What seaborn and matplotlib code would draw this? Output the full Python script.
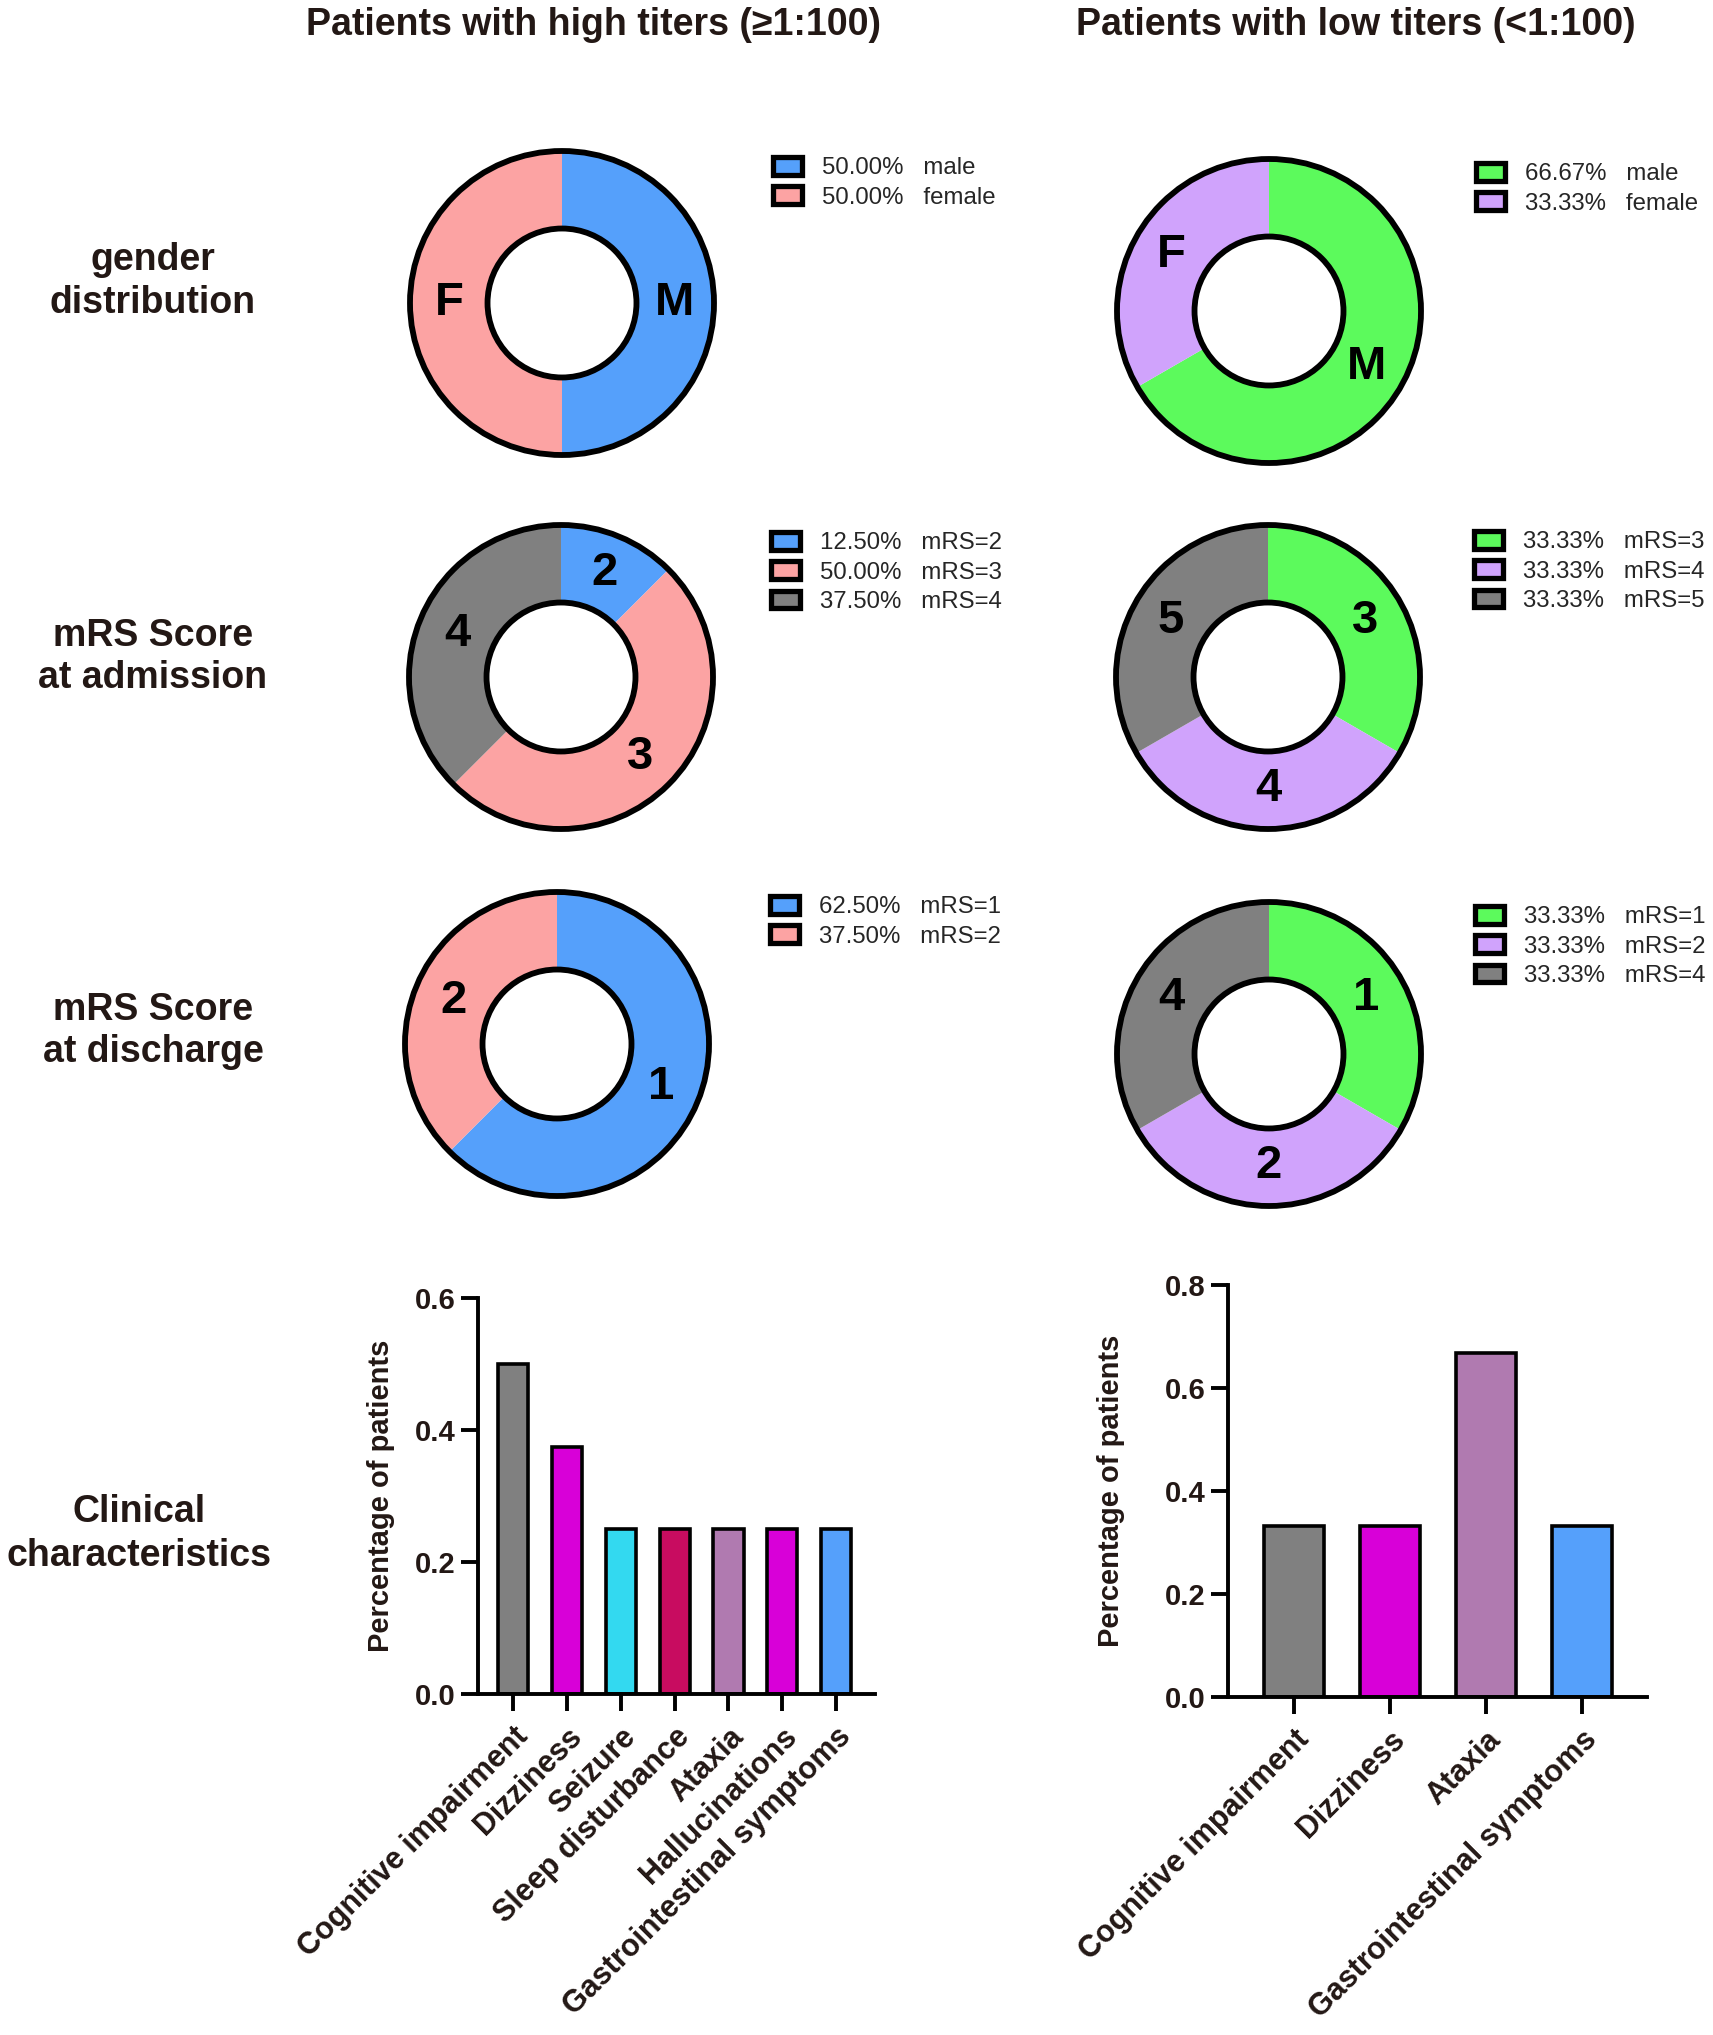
import numpy as np
import pandas as pd
import seaborn as sns
import matplotlib.pyplot as plt
from matplotlib.patches import Patch, Circle
from matplotlib.ticker import FormatStrFormatter

# ---- data ----
group_titles = ['Patients with high titers (\u22651:100)', 'Patients with low titers (<1:100)']
row_titles = ['gender\ndistribution', 'mRS Score\nat admission', 'mRS Score\nat discharge',
              'Clinical\ncharacteristics']

gender_names = ['male', 'female']
gender_short = ['M', 'F']
gender_high = [50.00, 50.00]
gender_low = [66.67, 33.33]

adm_high_scores = ['mRS=2', 'mRS=3', 'mRS=4']
adm_high = [12.50, 50.00, 37.50]
adm_low_scores = ['mRS=3', 'mRS=4', 'mRS=5']
adm_low = [33.33, 33.33, 33.33]

dis_high_scores = ['mRS=1', 'mRS=2']
dis_high = [62.50, 37.50]
dis_low_scores = ['mRS=1', 'mRS=2', 'mRS=4']
dis_low = [33.33, 33.33, 33.33]

symptoms_high = ['Cognitive impairment', 'Dizziness', 'Seizure', 'Sleep disturbance',
                 'Ataxia', 'Hallucinations', 'Gastrointestinal symptoms']
pct_high = [0.5, 0.375, 0.25, 0.25, 0.25, 0.25, 0.25]
symptoms_low = ['Cognitive impairment', 'Dizziness', 'Ataxia', 'Gastrointestinal symptoms']
pct_low = [0.333, 0.333, 0.667, 0.333]

# ---- colours ----
BLUE = '#55A0FB'
PINK = '#FCA3A3'
GRAY = '#808080'
GREEN = '#5CFA5C'
LAVENDER = '#D0A3FC'
MAGENTA = '#D800D8'
CYAN = '#33D9F0'
CRIMSON = '#C80C60'
MAUVE = '#B07AB0'
high_colors = [BLUE, PINK, GRAY]
low_colors = [GREEN, LAVENDER, GRAY]
symptom_colors = {'Cognitive impairment': GRAY, 'Dizziness': MAGENTA, 'Seizure': CYAN,
                  'Sleep disturbance': CRIMSON, 'Ataxia': MAUVE, 'Hallucinations': MAGENTA,
                  'Gastrointestinal symptoms': BLUE}
TXT = '#231815'

sns.set_theme(style='ticks', rc={'axes.edgecolor': 'black', 'xtick.color': 'black',
                                 'ytick.color': 'black'})
plt.rcParams['font.family'] = ['Liberation Sans', 'DejaVu Sans']

W, H = 1713, 2035
fig = plt.figure(figsize=(W / 100, H / 100), dpi=100)

R_OUT = 152
PAD = 1.07


def donut(cx, cy, values, colors, short, names, leg_x, leg_y):
    half = R_OUT * PAD
    ax = fig.add_axes([(cx - half) / W, 1 - (cy + half) / H, 2 * half / W, 2 * half / H])
    wedges, _ = ax.pie(values, colors=colors[:len(values)], startangle=90, counterclock=False,
                       radius=1, wedgeprops=dict(width=0.51, linewidth=0))
    for w, s in zip(wedges, short):
        mid = np.deg2rad((w.theta1 + w.theta2) / 2)
        ax.text(0.74 * np.cos(mid), 0.74 * np.sin(mid), s, ha='center', va='center',
                fontsize=34, fontweight='bold', color='black')
    ax.add_patch(Circle((0, 0), 1, fill=False, lw=4.2, ec='black'))
    ax.add_patch(Circle((0, 0), 0.49, fill=False, lw=4.2, ec='black'))
    ax.set_xlim(-PAD, PAD)
    ax.set_ylim(-PAD, PAD)
    ax.set_aspect('equal')
    ax.axis('off')
    handles = [Patch(facecolor=c, edgecolor='black', linewidth=3.8, joinstyle='round')
               for c in colors[:len(values)]]
    labels = [f'{v:.2f}%   {n}' for v, n in zip(values, names)]
    fig.legend(handles, labels, loc='upper left', bbox_to_anchor=(leg_x / W, 1 - (leg_y - 10) / H),
               frameon=False, fontsize=17.3, handlelength=1.2, handleheight=0.75,
               handletextpad=0.85, labelspacing=0.3, borderpad=0, borderaxespad=0)


donut(562, 303, gender_high, high_colors, gender_short, gender_names, 773, 167)
donut(1269, 311, gender_low, low_colors, gender_short, gender_names, 1476, 173)
donut(561, 677, adm_high, high_colors, [s.split('=')[1] for s in adm_high_scores],
      adm_high_scores, 771, 542)
donut(1268, 677, adm_low, low_colors, [s.split('=')[1] for s in adm_low_scores],
      adm_low_scores, 1474, 541)
donut(557, 1044, dis_high, high_colors, [s.split('=')[1] for s in dis_high_scores],
      dis_high_scores, 770, 906)
donut(1269, 1054, dis_low, low_colors, [s.split('=')[1] for s in dis_low_scores],
      dis_low_scores, 1475, 916)


def bar_panel(left, right, top, bottom, names, values, ymax, xlim, width, label_x):
    ax = fig.add_axes([left / W, 1 - bottom / H, (right - left) / W, (bottom - top) / H])
    df = pd.DataFrame({'symptom': names, 'pct': values})
    sns.barplot(data=df, x='symptom', y='pct', hue='symptom', palette=symptom_colors,
                legend=False, width=width, edgecolor='black', linewidth=2.6, saturation=1, ax=ax)
    ax.set_ylim(0, ymax)
    ax.set_yticks(np.arange(0, ymax + 0.01, 0.2))
    ax.yaxis.set_major_formatter(FormatStrFormatter('%.1f'))
    ax.set_xlim(*xlim)
    sns.despine(ax=ax)
    for sp in ['left', 'bottom']:
        ax.spines[sp].set_linewidth(2.8)
    ax.tick_params(width=2.8, length=12, labelsize=21, pad=4, labelcolor=TXT)
    ax.tick_params(axis='x', labelrotation=45, pad=8, labelsize=22)
    for lbl in ax.get_xticklabels():
        lbl.set_ha('right')
        lbl.set_rotation_mode('anchor')
        lbl.set_fontweight('bold')
    for lbl in ax.get_yticklabels():
        lbl.set_fontweight('bold')
    ax.set_xlabel('')
    ax.set_ylabel('Percentage of patients', fontsize=21, fontweight='bold', color=TXT)
    ax.yaxis.set_label_coords(label_x, 0.5)


bar_panel(478, 875, 1298, 1694, symptoms_high, pct_high, 0.6, (-0.65, 6.72), 0.56, -0.209)
bar_panel(1228, 1647, 1285, 1697, symptoms_low, pct_low, 0.8, (-0.69, 3.68), 0.62, -0.246)

# column titles and row titles
for x, t in zip([594, 1356], group_titles):
    fig.text(x / W, 1 - 25 / H, t, ha='center', va='center', fontsize=27, fontweight='bold', color=TXT)
for (x, y), t in zip([(153, 281), (153, 657), (153, 1031), (139, 1534)], row_titles):
    fig.text(x / W, 1 - y / H, t, ha='center', va='center', fontsize=27, fontweight='bold',
             color=TXT, linespacing=1.25)

fig.savefig('out.png', dpi=100, facecolor='white')
